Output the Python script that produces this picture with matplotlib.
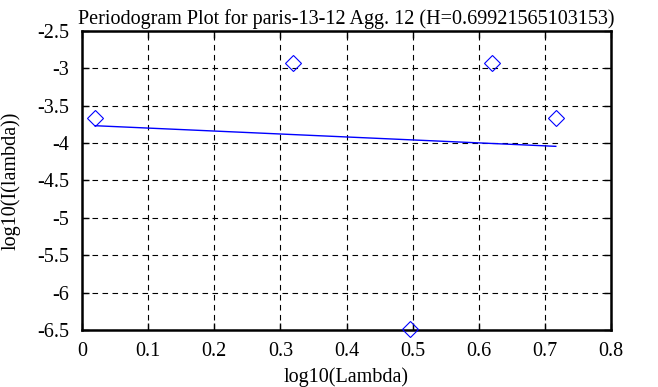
import matplotlib
matplotlib.use("Agg")
import matplotlib.pyplot as plt
import numpy as np

plt.rcParams['font.family'] = ['Liberation Serif', 'DejaVu Serif']

# periodogram points
log_lambda = [0.0198, 0.3195, 0.4965, 0.6205, 0.7165]
log_I = [-3.663, -2.928, -6.481, -2.928, -3.663]

# fitted line end points
fit_x = [0.0198, 0.7165]
fit_y = [-3.767, -4.043]

title = "Periodogram Plot for paris-13-12 Agg. 12 (H=0.69921565103153)"

fig = plt.figure(figsize=(6.58, 3.87), dpi=100)
ax = fig.add_axes([0.1246, 0.1473, 0.8040, 0.7726])

ax.plot(log_lambda, log_I, linestyle="none", marker="D", markersize=8,
        markerfacecolor="none", markeredgecolor="blue", markeredgewidth=0.8,
        clip_on=False, zorder=3)
ax.plot(fit_x, fit_y, color="blue", linewidth=1.0, zorder=3)

ax.set_xlim(0, 0.8)
ax.set_ylim(-6.5, -2.5)
ax.set_xticks(np.arange(0, 0.81, 0.1))
ax.set_xticklabels(["0", "0.1", "0.2", "0.3", "0.4", "0.5", "0.6", "0.7", "0.8"])
ax.set_yticks(np.arange(-6.5, -2.49, 0.5))
ax.set_yticklabels(["-6.5", "-6", "-5.5", "-5", "-4.5", "-4", "-3.5", "-3", "-2.5"])

ax.grid(True, color="black", linestyle=(0, (5, 4)), linewidth=0.8)
ax.tick_params(direction="in", top=True, right=True, length=5, width=1,
               labelsize=14.5)
ax.tick_params(axis="x", pad=9)
ax.tick_params(axis="y", pad=9)
for s in ax.spines.values():
    s.set_linewidth(1.8)

ax.set_title(title, fontsize=14.5, pad=5)
ax.set_xlabel("log10(Lambda)", fontsize=14.5, labelpad=4)
ax.set_ylabel("log10(I(lambda))", fontsize=14.5, labelpad=12)

fig.savefig("out.png", dpi=100)
